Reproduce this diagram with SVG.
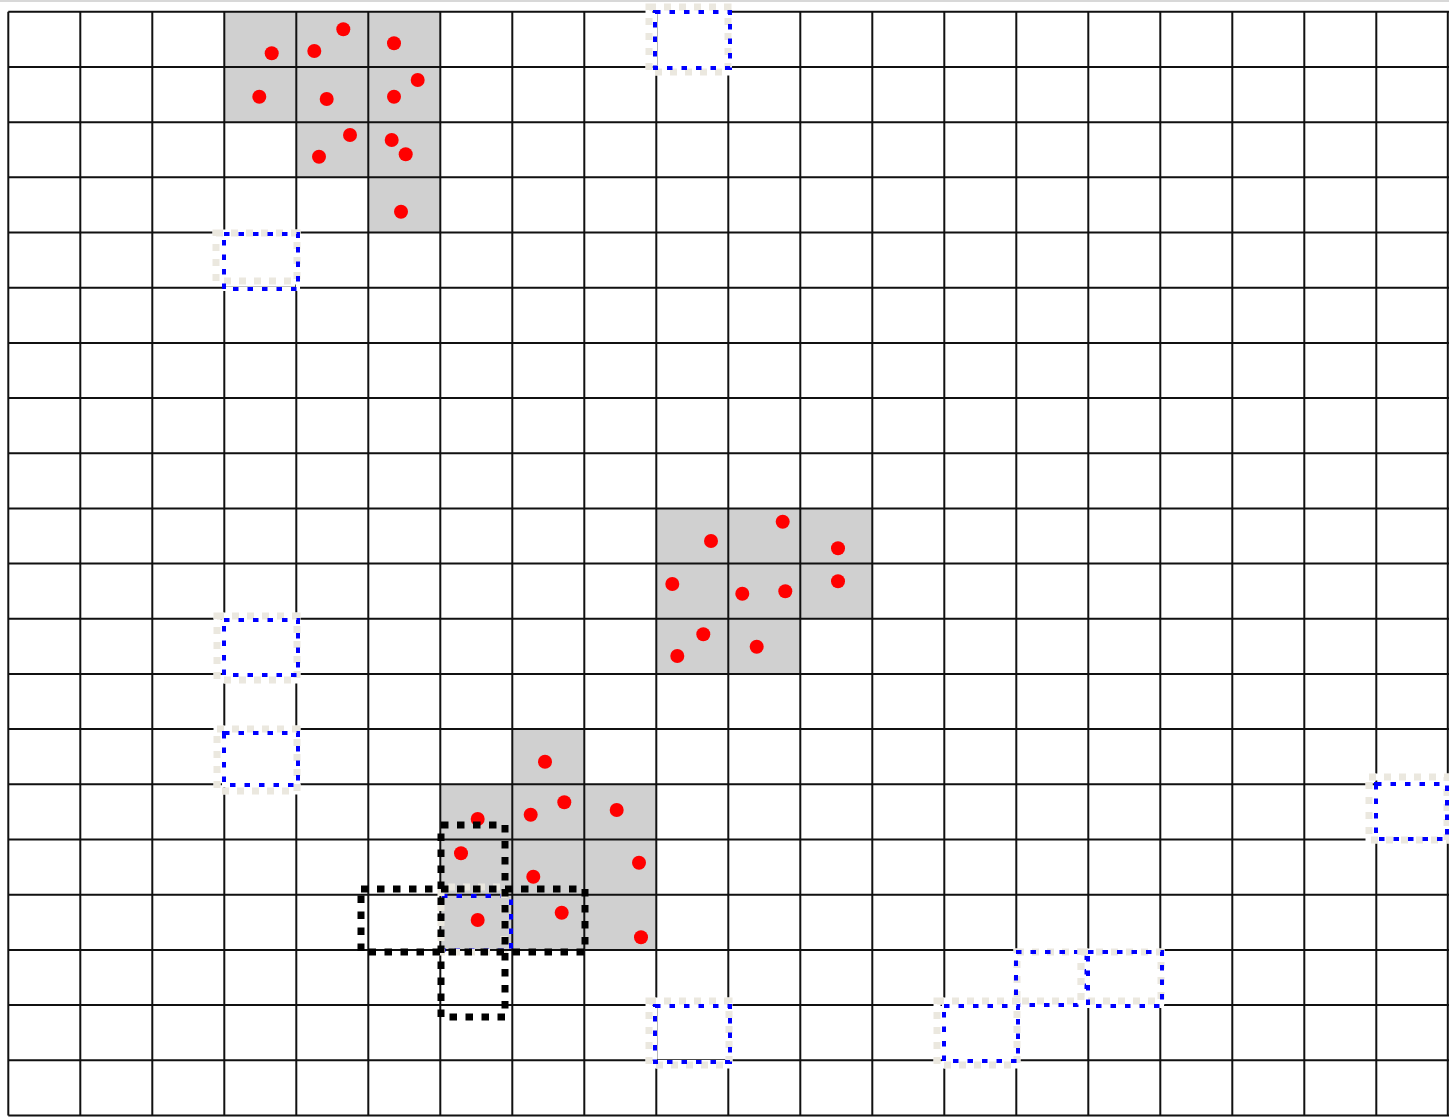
<svg xmlns="http://www.w3.org/2000/svg" width="1449" height="1117" viewBox="0 0 1449 1117">
<style>
.cell{fill:#d0d0d0;stroke:none}
.grid{fill:none;stroke:#111;stroke-width:2}
.dot{fill:#ff0000}
.wu{fill:none;stroke:#fff;stroke-width:7}
.wb{fill:none;stroke:#fff;stroke-width:4}
.beige{fill:none;stroke:#ebe8df;stroke-width:7;stroke-dasharray:7 8}
.blue{fill:none;stroke:#0000ff;stroke-width:4;stroke-dasharray:5.5 9}
.black{fill:none;stroke:#000;stroke-width:7;stroke-dasharray:7.5 8.5}
</style>
<rect x="0" y="0" width="1449" height="1117" fill="#fff"/>
<line x1="0" y1="1" x2="1449" y2="1" stroke="#d8d8d8" stroke-width="2"/>
<g id="cluster-top">
<rect class="cell" x="224.3" y="11.8" width="216" height="55.2"/>
<rect class="cell" x="224.3" y="67" width="216" height="55.2"/>
<rect class="cell" x="296.3" y="122.2" width="144" height="55.1"/>
<rect class="cell" x="368.3" y="177.3" width="72" height="55.2"/>
</g>
<g id="cluster-middle">
<rect class="cell" x="656.3" y="508.4" width="216" height="110.4"/>
<rect class="cell" x="656.3" y="618.8" width="144" height="55.2"/>
</g>
<g id="cluster-bottom">
<rect class="cell" x="512.3" y="729.1" width="72" height="55.2"/>
<rect class="cell" x="440.3" y="784.3" width="216" height="165.6"/>
</g>
<g id="grid">
<path class="grid" d="M8.3 11.8V1115.4M80.3 11.8V1115.4M152.3 11.8V1115.4M224.3 11.8V1115.4M296.3 11.8V1115.4M368.3 11.8V1115.4M440.3 11.8V1115.4M512.3 11.8V1115.4M584.3 11.8V1115.4M656.3 11.8V1115.4M728.3 11.8V1115.4M800.3 11.8V1115.4M872.3 11.8V1115.4M944.3 11.8V1115.4M1016.3 11.8V1115.4M1088.3 11.8V1115.4M1160.3 11.8V1115.4M1232.3 11.8V1115.4M1304.3 11.8V1115.4M1376.3 11.8V1115.4M1447.8 11.8V1115.4"/>
<path class="grid" d="M8.3 11.8H1449M8.3 67H1449M8.3 122.2H1449M8.3 177.3H1449M8.3 232.5H1449M8.3 287.7H1449M8.3 342.9H1449M8.3 398.1H1449M8.3 453.2H1449M8.3 508.4H1449M8.3 563.6H1449M8.3 618.8H1449M8.3 674H1449M8.3 729.1H1449M8.3 784.3H1449M8.3 839.5H1449M8.3 894.7H1449M8.3 949.9H1449M8.3 1005H1449M8.3 1060.2H1449M8.3 1115.4H1449"/>
</g>
<g id="points">
<circle class="dot" cx="271.7" cy="53.3" r="7"/>
<circle class="dot" cx="314.3" cy="51" r="7"/>
<circle class="dot" cx="343.3" cy="29.3" r="7"/>
<circle class="dot" cx="394" cy="43.3" r="7"/>
<circle class="dot" cx="259.3" cy="96.7" r="7"/>
<circle class="dot" cx="326.7" cy="99" r="7"/>
<circle class="dot" cx="394" cy="96.7" r="7"/>
<circle class="dot" cx="417.7" cy="80" r="7"/>
<circle class="dot" cx="350" cy="135" r="7"/>
<circle class="dot" cx="319" cy="156.7" r="7"/>
<circle class="dot" cx="391.7" cy="140" r="7"/>
<circle class="dot" cx="405.7" cy="154.3" r="7"/>
<circle class="dot" cx="401" cy="211.7" r="7"/>
<circle class="dot" cx="711" cy="541" r="7"/>
<circle class="dot" cx="782.7" cy="521.7" r="7"/>
<circle class="dot" cx="838" cy="548.3" r="7"/>
<circle class="dot" cx="672.3" cy="584" r="7"/>
<circle class="dot" cx="742.3" cy="593.7" r="7"/>
<circle class="dot" cx="785.3" cy="591.3" r="7"/>
<circle class="dot" cx="838" cy="581.3" r="7"/>
<circle class="dot" cx="703.3" cy="634.3" r="7"/>
<circle class="dot" cx="677.3" cy="656" r="7"/>
<circle class="dot" cx="756.7" cy="646.7" r="7"/>
<circle class="dot" cx="545" cy="761.7" r="7"/>
<circle class="dot" cx="477.7" cy="819" r="7"/>
<circle class="dot" cx="530.7" cy="814.7" r="7"/>
<circle class="dot" cx="564.3" cy="802.3" r="7"/>
<circle class="dot" cx="616.7" cy="810" r="7"/>
<circle class="dot" cx="461" cy="853.3" r="7"/>
<circle class="dot" cx="533.3" cy="876.7" r="7"/>
<circle class="dot" cx="639" cy="862.7" r="7"/>
<circle class="dot" cx="477.7" cy="920" r="7"/>
<circle class="dot" cx="561.7" cy="912.7" r="7"/>
<circle class="dot" cx="641" cy="937.3" r="7"/>
</g>
<g id="box-1">
<rect class="wu" x="649" y="7" width="79" height="65"/><rect class="wb" x="655" y="12" width="75" height="56"/>
<rect class="beige" x="649" y="7" width="79" height="65"/><rect class="blue" x="655" y="12" width="75" height="56"/>
</g>
<g id="box-2">
<rect class="wu" x="216" y="233" width="81" height="48"/><rect class="wb" x="224" y="234" width="74" height="55"/>
<rect class="beige" x="216" y="233" width="81" height="48"/><rect class="blue" x="224" y="234" width="74" height="55"/>
</g>
<g id="box-3">
<rect class="wu" x="217" y="616" width="80" height="64"/><rect class="wb" x="224" y="620" width="74" height="55"/>
<rect class="beige" x="217" y="616" width="80" height="64"/><rect class="blue" x="224" y="620" width="74" height="55"/>
</g>
<g id="box-4">
<rect class="wu" x="217" y="729" width="80" height="62"/><rect class="wb" x="224" y="733" width="74" height="52"/>
<rect class="beige" x="217" y="729" width="80" height="62"/><rect class="blue" x="224" y="733" width="74" height="52"/>
</g>
<g id="box-5">
<rect class="wu" x="1369" y="777" width="78" height="63"/><rect class="wb" x="1376" y="784" width="71" height="55"/>
<rect class="beige" x="1369" y="777" width="78" height="63"/><rect class="blue" x="1376" y="784" width="71" height="55"/>
</g>
<g id="box-6">
<rect class="wu" x="1017" y="952" width="64" height="49"/><rect class="wb" x="1016" y="952" width="70" height="53"/>
<rect class="beige" x="1017" y="952" width="64" height="49"/><rect class="blue" x="1016" y="952" width="70" height="53"/>
</g>
<g id="box-7">
<rect class="wu" x="1081" y="952" width="80" height="49"/><rect class="wb" x="1088" y="952" width="74" height="54"/>
<rect class="beige" x="1081" y="952" width="80" height="49"/><rect class="blue" x="1088" y="952" width="74" height="54"/>
</g>
<g id="box-8">
<rect class="wu" x="937" y="1001" width="80" height="64"/><rect class="wb" x="944" y="1006" width="74" height="55"/>
<rect class="beige" x="937" y="1001" width="80" height="64"/><rect class="blue" x="944" y="1006" width="74" height="55"/>
</g>
<g id="box-9">
<rect class="wu" x="649" y="1001" width="80" height="64"/><rect class="wb" x="655" y="1006" width="75" height="56"/>
<rect class="beige" x="649" y="1001" width="80" height="64"/><rect class="blue" x="655" y="1006" width="75" height="56"/>
</g>
<g id="box-10">
<rect class="blue" x="442" y="896" width="69" height="54"/>
<rect class="beige" x="441" y="887" width="63" height="65" style="stroke-dashoffset:8"/>
</g>
<g id="selection-vertical">
<rect class="black" x="441" y="825" width="64" height="192"/>
</g>
<g id="selection-horizontal">
<rect class="black" x="361" y="889" width="224" height="63"/>
</g>
<g id="connectors"/>
</svg>
